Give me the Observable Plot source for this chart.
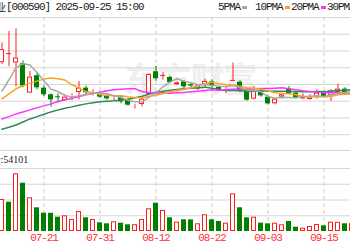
<!DOCTYPE html>
<html><head><meta charset="utf-8">
<script src="https://cdn.jsdelivr.net/npm/d3@7"></script>
<script src="https://cdn.jsdelivr.net/npm/@observablehq/plot@0.6"></script>
<style>
body{margin:0;background:#fff;}
#wrap{position:relative;width:350px;height:250px;overflow:hidden;background:#fff;font-family:"Liberation Mono",monospace;font-size:11px;letter-spacing:-1.1px;color:#222;}
.abs{position:absolute;white-space:nowrap;line-height:12px;}
.sw{position:absolute;width:5px;height:3px;}
</style></head><body>
<div id="wrap"></div>
<script>
const dates = ["07-11","07-14","07-15","07-16","07-17","07-18","07-21","07-22","07-23","07-24","07-25","07-28","07-29","07-30","07-31","08-01","08-04","08-05","08-06","08-07","08-08","08-11","08-12","08-13","08-14","08-15","08-18","08-19","08-20","08-21","08-22","08-25","08-26","08-27","08-28","08-29","09-01","09-02","09-03","09-04","09-05","09-08","09-09","09-10","09-11","09-12","09-15","09-16","09-17","09-18","09-19"];
const open = [8.65,8.92,8.64,8.62,7.74,8.26,7.89,7.69,7.63,7.52, 7.64,7.76,7.89,7.76,7.74,7.66,7.59,7.62,7.54,7.35, 7.40,7.70,8.38,8.27,8.21,7.99,8.08,7.99,7.86,7.97, 8.08,7.91,7.87,8.09,8.07,7.83,7.56,7.79,7.62,7.42, 7.62,7.86,7.74,7.57,7.55,7.62,7.74,7.66,7.76,7.86, 7.78];
const close = [9.04,8.92,8.79,7.95,8.22,7.90,7.69,7.54,7.60,7.62, 7.65,7.89,7.75,7.77,7.62,7.57,7.60,7.48,7.38,7.36, 7.56,8.30,8.17,8.27,8.06,8.05,7.93,7.95,7.96,8.09, 7.95,7.81,7.88,8.12,7.80,7.53,7.79,7.66,7.42,7.56, 7.69,7.72,7.59,7.63,7.63,7.74,7.62,7.81,7.86,7.76, 7.84];
const high = [9.24,9.58,9.66,8.70,8.39,8.34,7.96,7.72,7.72,7.69, 7.72,8.09,7.95,7.84,7.78,7.69,7.66,7.66,7.57,7.41, 7.63,8.32,8.54,8.36,8.24,8.08,8.11,8.03,7.99,8.16, 8.14,7.94,7.95,8.64,8.11,7.87,7.94,7.82,7.66,7.59, 7.74,7.94,7.76,7.72,7.69,7.84,7.79,7.84,8.01,7.90, 7.90];
const low = [8.59,8.53,7.93,7.90,7.73,7.84,7.64,7.32,7.45,7.49, 7.51,7.54,7.69,7.66,7.59,7.53,7.52,7.42,7.35,7.27, 7.33,7.69,8.10,8.13,8.03,7.96,7.87,7.90,7.82,7.89, 7.90,7.79,7.72,8.08,7.76,7.50,7.54,7.62,7.39,7.39, 7.56,7.69,7.56,7.54,7.53,7.56,7.60,7.49,7.69,7.72, 7.75];
const volume = [160000,146500,288500,241500,168500,118500,91500,91000,71500,78500, 60000,100000,68500,60000,43500,38500,48500,41500,33500,34000, 60000,113500,141500,105000,68500,46500,58500,58000,38500,83500, 58500,50000,41500,188500,118500,68500,71500,41500,38500,41500, 33500,50000,21500,16500,25000,35000,28500,46500,46000,38500, 40000];
const ma5 = [7.80,8.14,8.50,8.62,8.58,8.36,8.11,7.86,7.79,7.67, 7.62,7.66,7.70,7.74,7.74,7.72,7.66,7.61,7.53,7.48, 7.48,7.62,7.75,7.93,8.07,8.17,8.10,8.05,7.99,8.00, 7.98,7.95,7.94,7.97,7.91,7.83,7.82,7.78,7.64,7.59, 7.62,7.61,7.60,7.64,7.65,7.66,7.64,7.69,7.73,7.76, 7.78];
const ma10 = [7.57,7.72,7.87,7.96,8.04,8.10,8.16,8.19,8.17,8.13, 7.99,7.89,7.78,7.76,7.70,7.67,7.66,7.66,7.63,7.61, 7.60,7.64,7.68,7.73,7.78,7.82,7.86,7.90,7.96,8.03, 8.07,8.02,8.00,7.98,7.95,7.90,7.89,7.86,7.81,7.75, 7.73,7.72,7.69,7.64,7.62,7.64,7.63,7.64,7.69,7.71, 7.72];
const ma20 = [6.97,7.04,7.12,7.18,7.24,7.30,7.36,7.42,7.49,7.54, 7.59,7.64,7.69,7.73,7.77,7.81,7.84,7.86,7.87,7.87, 7.79,7.76,7.73,7.75,7.74,7.75,7.76,7.78,7.80,7.82, 7.84,7.83,7.84,7.86,7.86,7.86,7.87,7.88,7.88,7.89, 7.90,7.87,7.84,7.81,7.79,7.77,7.76,7.75,7.75,7.73, 7.72];
const ma30 = [6.66,6.72,6.79,6.88,6.97,7.04,7.11,7.18,7.24,7.29, 7.33,7.38,7.42,7.45,7.48,7.50,7.51,7.53,7.56,7.60, 7.65,7.71,7.77,7.80,7.83,7.85,7.87,7.89,7.90,7.92, 7.89,7.85,7.82,7.82,7.81,7.80,7.80,7.81,7.80,7.80, 7.80,7.79,7.79,7.78,7.78,7.79,7.79,7.80,7.82,7.83, 7.84];
const tickDates = ["07-21","07-31","08-12","08-22","09-03","09-15"];
const maNames = ["5PMA","10PMA","20PMA","30PMA"];
const stockName = "启迪药业";
const stockCode = "[000590]";
const stamp = "2025-09-25 15:00";
const volLabel = "成交量";
const lastVolume = 54101;
const watermark = "东方财富";

const red = "#ff1e1e", green = "#008000";
const maColors = ["#a8a8a8","#f5a623","#ff33ff","#2e8b57"];

const table = dates.map((d, i) => ({
  date: d, open: open[i], close: close[i], high: high[i], low: low[i],
  top: Math.max(open[i], close[i]), bottom: Math.min(open[i], close[i]),
  up: close[i] >= open[i], doji: open[i] === close[i],
  volume: volume[i],
  volUp: close[i] > open[i] || (close[i] === open[i] && i > 0 && close[i] >= close[i-1]),
  ma5: ma5[i], ma10: ma10[i], ma20: ma20[i], ma30: ma30[i]
}));
const upRows = table.filter(d => d.up), downRows = table.filter(d => !d.up);
const xScale = {type: "band", domain: dates, range: [-2, 355], paddingInner: 2/7, paddingOuter: 1/7, align: 0.5, round: false, axis: null};

const pricePlot = Plot.plot({
  width: 350, height: 120, margin: 0,
  x: xScale,
  y: {domain: [6.5, 10], range: [117.17, 0], axis: null},
  style: {background: "transparent"},
  marks: [
    Plot.text([watermark], {frameAnchor: "middle", dx: 15, dy: 4, fontSize: 34, fontWeight: "bold", fill: "#efefef", fontFamily: "Noto Sans CJK SC"}),
    Plot.ruleY(d3.range(6.5, 10.01, 0.5), {stroke: "#d6d6d6"}),
    Plot.ruleX(tickDates, {x: d => d, stroke: "#cccccc", strokeDasharray: "4,3"}),
    Plot.ruleX(upRows, {x: "date", y1: "top", y2: "high", stroke: red}),
    Plot.ruleX(upRows, {x: "date", y1: "low", y2: "bottom", stroke: red}),
    Plot.ruleX(downRows, {x: "date", y1: "low", y2: "high", stroke: green}),
    Plot.barY(downRows, {x: "date", y1: "open", y2: "close", fill: green}),
    Plot.barY(upRows.filter(d => !d.doji), {x: "date", y1: "open", y2: "close", fill: "white", stroke: red, inset: 0.5}),
    Plot.tickY(table.filter(d => d.doji), {x: "date", y: "close", stroke: red}),
    Plot.line(table, {x: "date", y: "ma30", stroke: maColors[3]}),
    Plot.line(table, {x: "date", y: "ma20", stroke: maColors[2]}),
    Plot.line(table, {x: "date", y: "ma10", stroke: maColors[1]}),
    Plot.line(table, {x: "date", y: "ma5", stroke: maColors[0]})
  ]
});

const volMax = 315000;
const volPlot = Plot.plot({
  width: 350, height: 100, marginTop: 18, marginBottom: 19, marginLeft: 0, marginRight: 0,
  x: xScale,
  y: {domain: [0, volMax], axis: null},
  style: {background: "transparent", fontFamily: "Liberation Mono, monospace", fontSize: "11px", letterSpacing: "-1.1px"},
  marks: [
    Plot.ruleY(d3.range(1, 5).map(k => k * volMax / 4), {stroke: "#d6d6d6"}),
    Plot.ruleX(tickDates, {x: d => d, stroke: "#cccccc", strokeDasharray: "4,3"}),
    Plot.barY(table.filter(d => !d.volUp), {x: "date", y: "volume", fill: green}),
    Plot.barY(table.filter(d => d.volUp), {x: "date", y: "volume", fill: "white", stroke: red, inset: 0.5}),
    Plot.text(tickDates, {x: d => d, frameAnchor: "bottom", dy: 9, fill: "#f33", fontSize: 11})
  ]
});

const wrap = document.getElementById("wrap");
function place(el, left, top) {
  const d = document.createElement("div");
  d.className = "abs"; d.style.left = left + "px"; d.style.top = top + "px";
  d.appendChild(el); wrap.appendChild(d); return d;
}
place(pricePlot, 0, 17);
place(volPlot, 0, 150);

function label(text, css) {
  const d = document.createElement("div");
  d.className = "abs"; d.textContent = text;
  Object.assign(d.style, css); wrap.appendChild(d); return d;
}
label(stockName, {right: "344px", top: "1px", letterSpacing: "0px", fontFamily: "Noto Sans CJK SC", fontSize: "10px"});
label(stockCode + " " + stamp, {left: "6px", top: "1px"});
const legX = [218, 255, 291, 327];
maNames.forEach((n, i) => {
  label(n, {left: legX[i] + "px", top: "1px"});
  const s = document.createElement("div");
  s.className = "sw";
  Object.assign(s.style, {left: (legX[i] + n.length * 5.5 + 2) + "px", top: "6px", background: maColors[i]});
  wrap.appendChild(s);
});
const hl = document.createElement("div");
Object.assign(hl.style, {position: "absolute", left: "0px", top: "150px", width: "350px", height: "1px", background: "#d6d6d6"});
wrap.appendChild(hl);
label(volLabel, {right: "349px", top: "154px", letterSpacing: "0px", fontFamily: "Noto Sans CJK SC", fontSize: "10px"});
label(":" + lastVolume, {left: "0.5px", top: "154px", letterSpacing: "0px", fontFamily: "Liberation Serif", fontSize: "10px"});
</script>
</body></html>
